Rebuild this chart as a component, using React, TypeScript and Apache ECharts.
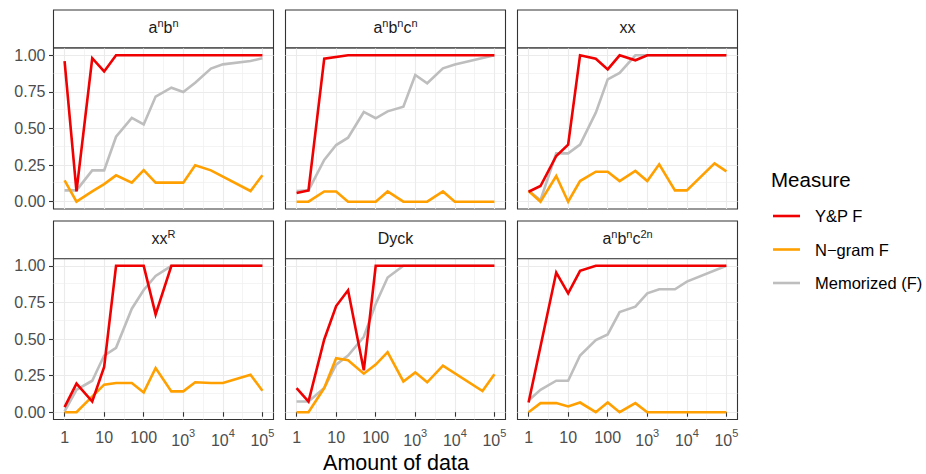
import React, { useEffect, useRef } from 'react';
import * as echarts from 'echarts';

// ---------- data ----------
const xValues = [1, 2, 5, 10, 20, 50, 100, 200, 500, 1000, 2000, 5000, 10000, 50000, 100000];
const seriesNames = ['Y&P F', 'N\u2212gram F', 'Memorized (F)'];
const xTickValues = [1, 10, 100, 1000, 10000, 100000];
const xMinorValues = [3.1623, 31.623, 316.23, 3162.3, 31623];
const yTickValues = [0, 0.25, 0.5, 0.75, 1];
const yMinorValues = [0.125, 0.375, 0.625, 0.875];

// a^n b^n
const ypAnbn = [0.96, 0.07, 0.98, 0.89, 1, 1, 1, 1, 1, 1, 1, 1, 1, 1, 1];
const ngAnbn = [0.146, 0, 0.07, 0.12, 0.18, 0.13, 0.215, 0.13, 0.13, 0.13, 0.248, 0.214, null, 0.073, 0.18];
const memAnbn = [0.077, 0.077, 0.214, 0.214, 0.444, 0.572, 0.528, 0.718, 0.779, 0.749, 0.813, 0.909, 0.938, 0.961, 0.98];
// a^n b^n c^n
const ypAnbncn = [0.06, 0.077, 0.977, null, 1, 1, 1, 1, 1, 1, 1, 1, 1, 1, 1];
const ngAnbncn = [0, 0, 0.07, 0.07, 0, 0, 0, 0.07, 0, 0, 0, 0.07, 0, 0, 0];
const memAnbncn = [0.073, 0.077, 0.285, 0.387, 0.437, 0.613, 0.57, 0.617, 0.649, 0.866, 0.809, 0.911, 0.938, null, 1];
// xx
const ypXx = [0.068, 0.107, 0.312, 0.39, 1, 0.977, 0.904, 1, 0.966, 1, 1, 1, 1, 1, 1];
const ngXx = [0.073, 0, 0.175, 0, 0.141, 0.205, 0.205, 0.141, 0.21, 0.141, 0.255, 0.077, 0.077, 0.262, 0.207];
const memXx = [0.077, 0.01, 0.33, 0.33, 0.39, 0.608, 0.836, 0.88, 1, 1, 1, 1, 1, 1, 1];
// xx^R
const ypXxr = [0.034, 0.195, 0.073, 0.309, 1, 1, 1, 0.668, 1, 1, 1, 1, 1, 1, 1];
const ngXxr = [0, 0, null, 0.188, 0.199, 0.199, 0.135, 0.302, 0.142, 0.142, 0.204, 0.199, 0.199, 0.256, 0.146];
const memXxr = [0.005, 0.153, 0.215, 0.387, 0.44, 0.707, 0.835, 0.931, 1, 1, 1, 1, 1, 1, 1];
// Dyck
const ypDyck = [0.165, 0.073, 0.497, 0.725, 0.833, 0.286, 1, 1, 1, 1, 1, 1, 1, 1, 1];
const ngDyck = [0, 0, 0.165, 0.368, 0.355, 0.263, 0.325, 0.41, 0.21, 0.272, 0.204, 0.318, null, 0.144, 0.259];
const memDyck = [0.073, 0.073, 0.165, 0.325, 0.387, 0.515, 0.74, 0.92, 1, 1, 1, 1, 1, 1, 1];
// a^n b^n c^2n
const ypAnbnc2n = [0.066, null, 0.954, 0.812, 0.966, 1, 1, 1, 1, 1, 1, 1, 1, 1, 1];
const ngAnbnc2n = [0, 0.062, 0.062, 0.039, 0.066, 0, 0.066, 0, 0.062, 0, 0, 0, 0, 0, 0];
const memAnbnc2n = [0.08, 0.153, 0.215, 0.215, 0.387, 0.492, 0.531, 0.684, 0.721, 0.812, 0.84, 0.84, 0.892, null, 1];

const panelTitles = [
  '{a|a}{s|n}{a|b}{s|n}',
  '{a|a}{s|n}{a|b}{s|n}{a|c}{s|n}',
  '{a|xx}',
  '{a|xx}{s|R}',
  '{a|Dyck}',
  '{a|a}{s|n}{a|b}{s|n}{a|c}{s|2n}',
];
const panelData = [
  [ypAnbn, ngAnbn, memAnbn],
  [ypAnbncn, ngAnbncn, memAnbncn],
  [ypXx, ngXx, memXx],
  [ypXxr, ngXxr, memXxr],
  [ypDyck, ngDyck, memDyck],
  [ypAnbnc2n, ngAnbnc2n, memAnbnc2n],
];

// ---------- styling ----------
const FONT = '"Liberation Sans", Arial, Helvetica, sans-serif';
const colors = ['#f00000', '#ffa000', '#bebebe'];
const colLeft = [53.5, 285.5, 517.5];
const rowTop = [48, 258.5];
const stripTop = [10, 221];
const PW = 220;
const PH = 161;
const STRIP_H = 37.7;
const BORDER = '#333333';

function pairs(arr: (number | null)[]) {
  const out: [number, number][] = [];
  arr.forEach((v, j) => {
    if (v !== null) out.push([xValues[j], v]);
  });
  return out;
}

function xLabel(v: number) {
  const e = Math.round(Math.log10(v));
  if (e < 3) return '{b|' + String(Math.round(v)) + '}';
  return '{p|10}{s|' + e + '}';
}

function buildOption() {
  const grid: any[] = [];
  const xAxis: any[] = [];
  const yAxis: any[] = [];
  const series: any[] = [];
  const graphic: any[] = [];

  panelData.forEach((pd, i) => {
    const col = i % 3;
    const row = Math.floor(i / 3);
    const bottom = row === 1;
    const left = col === 0;
    grid.push({
      left: colLeft[col],
      top: rowTop[row],
      width: PW,
      height: PH,
      show: true,
      backgroundColor: '#ffffff',
      borderColor: BORDER,
      borderWidth: 1.1,
      containLabel: false,
      outerBoundsMode: 'none',
    });
    xAxis.push({
      type: 'log',
      logBase: 10,
      gridIndex: i,
      min: Math.pow(10, -0.28),
      max: Math.pow(10, 5.28),
      axisLine: { show: false },
      axisTick: {
        show: bottom,
        customValues: xTickValues,
        length: 4.5,
        lineStyle: { color: BORDER, width: 1.1 },
      },
      axisLabel: {
        show: bottom,
        customValues: xTickValues,
        formatter: xLabel,
        margin: 8,
        color: '#4d4d4d',
        fontFamily: FONT,
        fontSize: 16,
        rich: {
          b: { fontSize: 16, fontFamily: FONT, color: '#4d4d4d', lineHeight: 18, verticalAlign: 'bottom' },
          p: { fontSize: 16, fontFamily: FONT, color: '#4d4d4d', lineHeight: 21, verticalAlign: 'bottom' },
          s: { fontSize: 11, fontFamily: FONT, color: '#4d4d4d', lineHeight: 10, verticalAlign: 'top' },
        },
      },
      splitLine: { show: true, lineStyle: { color: '#ebebeb', width: 1.1 } },
    });
    yAxis.push({
      type: 'value',
      gridIndex: i,
      min: -0.05,
      max: 1.05,
      axisLine: { show: false },
      axisTick: {
        show: left,
        customValues: yTickValues,
        length: 4.5,
        lineStyle: { color: BORDER, width: 1.1 },
      },
      axisLabel: {
        show: left,
        customValues: yTickValues,
        formatter: (v: number) => v.toFixed(2),
        margin: 8,
        color: '#4d4d4d',
        fontFamily: FONT,
        fontSize: 16,
      },
      splitLine: { show: true, lineStyle: { color: '#ebebeb', width: 1.1 } },
    });
    // draw order: Memorized, N-gram, Y&P
    [2, 1, 0].forEach((k) => {
      const s: any = {
        type: 'line',
        name: seriesNames[k],
        xAxisIndex: i,
        yAxisIndex: i,
        data: pairs(pd[k]),
        showSymbol: false,
        symbol: 'none',
        silent: true,
        lineStyle: { color: colors[k], width: 2.6, cap: 'butt', join: 'miter' },
        itemStyle: { color: colors[k] },
        z: 3,
      };
      if (k === 2) {
        s.markLine = {
          silent: true,
          symbol: ['none', 'none'],
          label: { show: false },
          z: 1,
          animation: false,
          lineStyle: { color: '#ececec', width: 0.6, type: 'solid' },
          data: [
            ...xMinorValues.map((v) => ({ xAxis: v })),
            ...yMinorValues.map((v) => ({ yAxis: v })),
          ],
        };
      }
      series.push(s);
    });

    // strip
    graphic.push({
      type: 'rect',
      shape: { x: colLeft[col], y: stripTop[row], width: PW, height: STRIP_H },
      style: { fill: '#ffffff', stroke: BORDER, lineWidth: 1.1 },
      z: 10,
    });
    graphic.push({
      type: 'text',
      x: colLeft[col] + PW / 2,
      y: stripTop[row] + STRIP_H / 2 - 2,
      z: 11,
      style: {
        text: panelTitles[i],
        align: 'center',
        verticalAlign: 'middle',
        fill: '#1a1a1a',
        font: '16px ' + FONT,
        rich: {
          a: { fontSize: 16, fontFamily: FONT, fill: '#1a1a1a', lineHeight: 18, verticalAlign: 'bottom' },
          s: { fontSize: 11, fontFamily: FONT, fill: '#1a1a1a', lineHeight: 10, verticalAlign: 'top' },
        },
      },
    });
  });

  // axis title
  graphic.push({
    type: 'text',
    x: 396,
    y: 463,
    style: {
      text: 'Amount of data',
      align: 'center',
      verticalAlign: 'middle',
      fill: '#000000',
      font: '21.5px ' + FONT,
    },
  });

  // legend
  graphic.push({
    type: 'text',
    x: 771,
    y: 179,
    style: { text: 'Measure', align: 'left', verticalAlign: 'middle', fill: '#000000', font: '20.5px ' + FONT },
  });
  const legendY = [216, 249.5, 283];
  seriesNames.forEach((name, k) => {
    graphic.push({
      type: 'line',
      shape: { x1: 773, y1: legendY[k], x2: 800, y2: legendY[k] },
      style: { stroke: colors[k], lineWidth: 2.6 },
    });
    graphic.push({
      type: 'text',
      x: 815,
      y: legendY[k],
      style: { text: name, align: 'left', verticalAlign: 'middle', fill: '#000000', font: '16.5px ' + FONT },
    });
  });

  return {
    animation: false,
    backgroundColor: '#ffffff',
    grid,
    xAxis,
    yAxis,
    series,
    graphic,
  };
}

export default function App() {
  const ref = useRef<HTMLDivElement>(null);
  useEffect(() => {
    if (!ref.current) return;
    const chart = echarts.init(ref.current, undefined, { renderer: 'svg' });
    chart.setOption(buildOption() as any);
    return () => chart.dispose();
  }, []);
  return (
    <div
      ref={ref}
      style={{ position: 'fixed', left: 0, top: 0, width: 926, height: 474, background: '#fff' }}
    />
  );
}
